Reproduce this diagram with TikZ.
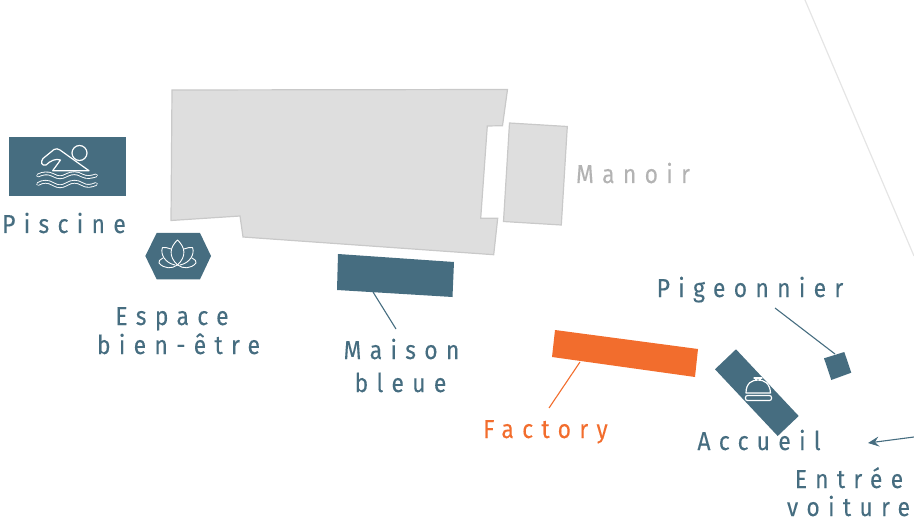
\documentclass[tikz,border=0pt]{standalone}
\usepackage{fontspec}
\usetikzlibrary{arrows.meta}
\newfontfamily\lab[LetterSpace=32,FakeStretch=0.88,FakeBold=0.15]{Fira Sans}
\definecolor{teal}{HTML}{466D80}
\definecolor{orng}{HTML}{F26D2D}
\definecolor{bldg}{HTML}{DEDEDE}
\definecolor{bedge}{HTML}{C9C9C9}
\definecolor{mano}{HTML}{B3B3B3}
\tikzset{
  x=1pt,y=-1pt,
  building/.style={fill=bldg,draw=bedge,line width=1.2pt,line join=miter},
  blue block/.style={fill=teal,draw=none},
  orange block/.style={fill=orng,draw=none},
  label text/.style={font=\lab\fontsize{26}{30}\selectfont,text=teal,anchor=base,inner sep=0pt},
  leader/.style={draw=teal,line width=1.1pt},
  icon/.style={draw=white,line width=1.2pt,fill=none,line join=round,line cap=round},
  wave/.style={draw=white,line width=.9pt,double=teal,double distance=1.9pt,line cap=round},
}
\begin{document}
\begin{tikzpicture}
\useasboundingbox (0,0) rectangle (914,532);
% boundary line
\coordinate (b1) at (805,0);
\coordinate (b2) at (914,256);
\draw[draw=black!10,line width=1.2pt] (b1) -- (b2);
% manoir
\path[building] (172,90) -- (507.5,89.5) -- (502.5,125.7) -- (487.3,126) -- (480.7,218.3) -- (497.7,218.3) -- (493.7,254.7) -- (243,237) -- (240,216) -- (171,220.5) -- cycle;
\path[building] (509.5,123) -- (567.3,126.5) -- (561.3,225) -- (503.5,221.5) -- cycle;
% blocks
\path[blue block] (8.5,137) rectangle (126,196);
\path[blue block] (145.3,256) -- (156.7,233) -- (200,233) -- (211,256) -- (200,279.3) -- (156.7,279.3) -- cycle;
\path[blue block] (338,254) -- (454,262) -- (452.5,297) -- (337,290) -- cycle;
\path[orange block] (555,330) -- (698,349) -- (695,377) -- (552,357) -- cycle;
\path[blue block] (736,349.3) -- (798.7,416) -- (777.7,436) -- (715,369.3) -- cycle;
\path[blue block] (824,358.3) -- (844.3,352) -- (851.3,372.7) -- (831.3,380) -- cycle;
% swimmer icon
\draw[icon] (79.5,153) circle (7.5);
\draw[icon] (89,170.7) -- (52.7,170.7) -- (60.5,160) .. controls (56,158) and (50,161) .. (46,165) .. controls (41,166) and (40.5,162) .. (43,158.5) -- (54,149.5) .. controls (56,148.5) and (58,148.5) .. (60,150) -- cycle;
\draw[wave] (38,175.5) .. controls (43,173) and (48,172.5) .. (53,175) .. controls (58,178) and (62,178) .. (67,175) .. controls (72,172.5) and (77,172.5) .. (82,175.5) .. controls (87,178) and (91,177) .. (96,175.5);
\draw[wave] (38,184) .. controls (43,181) and (48,181) .. (53,184) .. controls (58,187) and (62,187) .. (67,184) .. controls (72,181) and (77,181) .. (82,184) .. controls (87,187) and (91,186) .. (96,184);
% lotus icon
\draw[icon,line width=.9pt] (177.5,240) .. controls (170,247) and (168,256) .. (177.5,265) .. controls (187,256) and (185,247) .. (177.5,240) -- cycle;
\draw[icon,line width=.9pt] (171,249) .. controls (168,248) and (165,247) .. (162.5,247.5) .. controls (160,254) and (165,263) .. (175,265);
\draw[icon,line width=.9pt] (184,249) .. controls (187,248) and (190,247) .. (192.5,247.5) .. controls (195,254) and (190,263) .. (180,265);
\draw[icon,line width=.9pt] (163,258) .. controls (160,260) and (158,261) .. (159,263) .. controls (164,269) and (172,269) .. (177.5,265) .. controls (183,269) and (191,269) .. (196,263) .. controls (197,261) and (195,260) .. (192,258);
% bell icon
\draw[icon] (746,393) .. controls (746,383) and (752,380) .. (758,380) .. controls (764,380) and (770,383) .. (770.5,393) -- cycle;
\draw[icon] (756,380) -- (756,378) (760,380) -- (760,378);
\draw[icon] (754,378) -- (762,378);
\draw[icon,rounded corners=2pt] (745.5,395.5) rectangle (771.5,400.5);
% labels
\node[label text] (piscine) at (64,233) {Piscine};
\node[label text] (espace) at (172,325) {Espace};
\node[label text] (bien) at (178.5,354) {bien-être};
\node[label text] (maison) at (401.5,359) {Maison};
\node[label text] (bleue) at (400.5,392) {bleue};
\node[label text,text=orng] (factory) at (545.5,438) {Factory};
\node[label text] (accueil) at (759,450) {Accueil};
\node[label text] (entree) at (849,488) {Entrée};
\node[label text] (voiture) at (848.5,516) {voiture};
\node[label text,text=mano] (manoir) at (633,183) {Manoir};
\node[label text] (pigeon) at (750,297) {Pigeonnier};
% leaders
\coordinate (p1) at (775,308); \coordinate (p2) at (835,354);
\coordinate (m1) at (373,292); \coordinate (m2) at (396,329);
\coordinate (f1) at (580,362); \coordinate (f2) at (549,408);
\coordinate (e1) at (914,437); \coordinate (e2) at (868,443);
\draw[leader] (p1) -- (p2);
\draw[leader] (m1) -- (m2);
\draw[leader,draw=orng] (f1) -- (f2);
\draw[leader,-{Stealth[length=11pt,width=10pt,inset=4pt]}] (e1) -- (e2);
\end{tikzpicture}
\end{document}
